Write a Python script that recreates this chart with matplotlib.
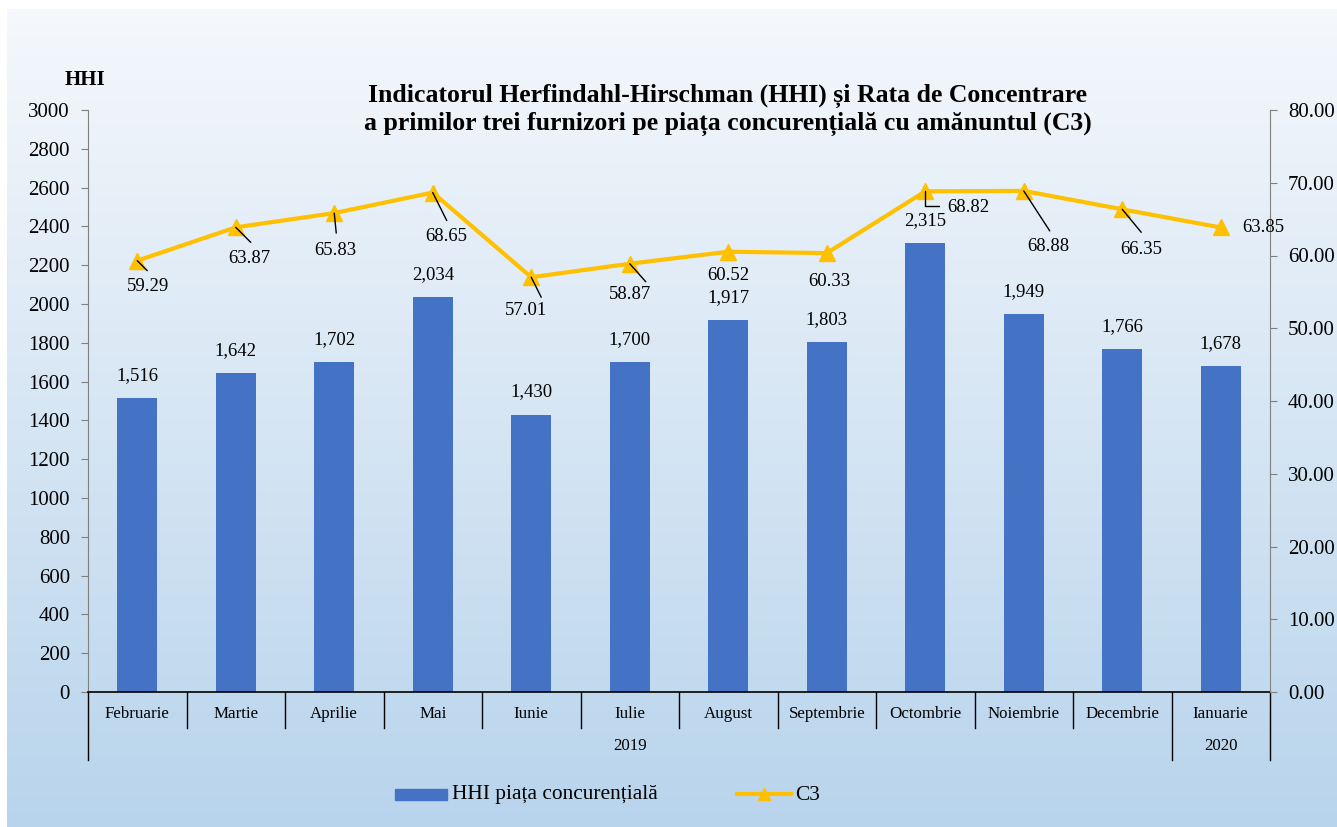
import numpy as np
import matplotlib
matplotlib.use("Agg")
import matplotlib.pyplot as plt
from matplotlib.patches import Rectangle
from matplotlib.lines import Line2D

plt.rcParams['font.family'] = ['Liberation Serif', 'DejaVu Serif']

months = ["Februarie", "Martie", "Aprilie", "Mai", "Iunie", "Iulie", "August",
          "Septembrie", "Octombrie", "Noiembrie", "Decembrie", "Ianuarie"]
years = ["2019", "2020"]
hhi = [1516, 1642, 1702, 2034, 1430, 1700, 1917, 1803, 2315, 1949, 1766, 1678]
c3 = [59.29, 63.87, 65.83, 68.65, 57.01, 58.87, 60.52, 60.33, 68.82, 68.88, 66.35, 63.85]
title_lines = ["Indicatorul Herfindahl-Hirschman (HHI) și Rata de Concentrare",
               "a primilor trei furnizori pe piața concurențială cu amănuntul (C3)"]
legend_labels = ["HHI piața concurențială", "C3"]

# label offsets (pixels, image-down positive) and leader ends
lab_off = [(11, 26), (14, 31), (1, 37), (14, 44), (-5, 33), (0, 31), (0, 24),
           (3, 28), (43, 16), (25, 56), (19, 40), (43, 0)]
lead_off = [(10, 10), (15, 15), (2, 20), (14, 28), (10, 20), (16, 18), None,
            None, "elbow", (26, 40), (19, 23), None]

W, H = 1337, 827
fig = plt.figure(figsize=(W / 100, H / 100), dpi=100)
fig.patch.set_facecolor("white")

# gradient background
bg = fig.add_axes([7 / W, 0, 1 - 7 / W, 1 - 9 / H])
grad = np.linspace(0, 1, 256)[:, None]
top = np.array([245, 248, 252]) / 255
bot = np.array([184, 212, 236]) / 255
img = top[None, None, :] * (1 - grad[:, :, None]) + bot[None, None, :] * grad[:, :, None]
bg.imshow(img, aspect="auto", extent=[0, 1, 0, 1])
bg.axis("off")

L, R, B, T = 88, 1270, 692, 110
ax = fig.add_axes([L / W, 1 - B / H, (R - L) / W, (B - T) / H])
ax.patch.set_alpha(0)
x = np.arange(len(months))
bars = ax.bar(x, hhi, width=0.41, color="#4472C4", zorder=2)
ax.set_xlim(-0.5, len(months) - 0.5)
ax.set_ylim(0, 3000)
ax.set_yticks(np.arange(0, 3001, 200))
ax.tick_params(axis="y", labelsize=15, length=5, color="#808080", pad=8)
ax.set_xticks([])
for s in ["top", "right"]:
    ax.spines[s].set_visible(False)
ax.spines["left"].set_color("#808080")
ax.spines["bottom"].set_color("black")
ax.spines["bottom"].set_linewidth(1.2)

for xi, v in zip(x, hhi):
    ax.annotate(f"{v:,}", (xi, v), xytext=(0, 14), textcoords="offset pixels",
                ha="center", va="bottom", fontsize=13.5)

# category axis separators
ph = B - T
for i in range(len(months) + 1):
    ext = 68 if i in (0, 11, 12) else 36
    ax.plot([i - 0.5, i - 0.5], [0, -ext / ph], transform=ax.get_xaxis_transform(),
            color="black", lw=1, clip_on=False)
for xi, m in zip(x, months):
    ax.text(xi, -22 / ph, m, transform=ax.get_xaxis_transform(), ha="center",
            va="center", fontsize=12.2)
ax.text(5, -54 / ph, years[0], transform=ax.get_xaxis_transform(), ha="center",
        va="center", fontsize=12.2)
ax.text(11, -54 / ph, years[1], transform=ax.get_xaxis_transform(), ha="center",
        va="center", fontsize=12.2)

ax2 = ax.twinx()
ax2.set_ylim(0, 80)
ax2.set_yticks(np.arange(0, 81, 10))
ax2.set_yticklabels([f"{v:.2f}" for v in np.arange(0, 81, 10)])
ax2.tick_params(axis="y", labelsize=15, length=5, color="#808080", pad=8)
for s in ["top", "left", "bottom"]:
    ax2.spines[s].set_visible(False)
ax2.spines["right"].set_color("#808080")
ax2.plot(x, c3, color="#FFC000", lw=3, marker="^", markersize=11, zorder=3)

for xi, v, lo, le in zip(x, c3, lab_off, lead_off):
    ax2.annotate(f"{v:.2f}", (xi, v), xytext=(lo[0], -lo[1]), textcoords="offset pixels",
                 ha="center", va="center", fontsize=13.5, zorder=4)
    if le == "elbow":
        ax2.annotate("", (xi, v), xytext=(14, -15), textcoords="offset pixels",
                     arrowprops=dict(arrowstyle="-", color="black", lw=1, shrinkA=0, shrinkB=0,
                                     connectionstyle="angle,angleA=0,angleB=90,rad=0"))
    elif le is not None:
        ax2.annotate("", (xi, v), xytext=(le[0], -le[1]), textcoords="offset pixels",
                     arrowprops=dict(arrowstyle="-", color="black", lw=1, shrinkA=0, shrinkB=0))

# title and axis title
fig.text(728 / W, 1 - 96 / H, title_lines[0], ha="center", va="center",
         fontsize=18.5, fontweight="bold")
fig.text(728 / W, 1 - 124 / H, title_lines[1], ha="center", va="center",
         fontsize=18.5, fontweight="bold")
fig.text(85 / W, 1 - 80 / H, "HHI", ha="center", va="center", fontsize=15,
         fontweight="bold")

# legend
fig.add_artist(Rectangle((395 / W, 1 - 800 / H), 52 / W, 11 / H,
                         transform=fig.transFigure, color="#4472C4"))
fig.text(452 / W, 1 - 795 / H, legend_labels[0], ha="left", va="center", fontsize=15.4)
fig.add_artist(Line2D([737 / W, 791 / W], [1 - 794 / H, 1 - 794 / H],
                      transform=fig.transFigure, color="#FFC000", lw=3))
fig.add_artist(Line2D([764 / W], [1 - 794 / H], transform=fig.transFigure,
                      color="#FFC000", marker="^", markersize=9))
fig.text(795 / W, 1 - 795 / H, legend_labels[1], ha="left", va="center", fontsize=15.4)

fig.savefig("out.png", dpi=100)
